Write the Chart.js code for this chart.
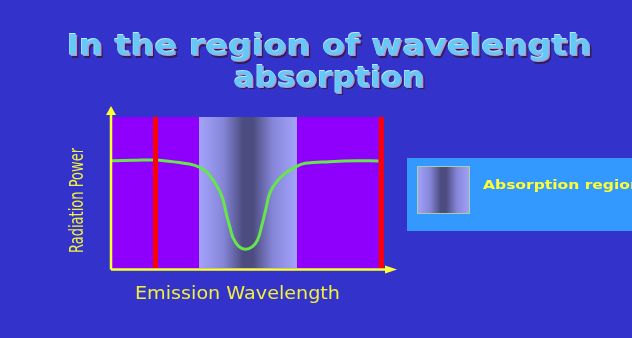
<!DOCTYPE html>
<html>
<head>
<meta charset="utf-8">
<title>In the region of wavelength absorption</title>
<script src="https://cdn.jsdelivr.net/npm/chart.js@4"></script>
<style>
  html, body { margin: 0; padding: 0; background: #3333cc; overflow: hidden; }
  canvas { display: block; }
</style>
</head>
<body>
<canvas id="chart" width="632" height="338"></canvas>
<script>
// Emission wavelength (arbitrary units) and the radiation power measured there
const wavelength = [0, 8, 16, 24, 30.5, 34.5, 38, 40.5, 42, 43.5, 44.5, 46.5, 49, 51.5, 53.5, 55, 56.5, 58, 60.5, 63.5, 67.5, 71, 80, 90, 98];
const radiationPower = [71, 71.3, 71.5, 70, 68, 64, 56, 47, 36, 26, 20, 14.5, 12.4, 14, 18.5, 27.5, 38.5, 49.5, 57, 62.5, 67, 69.3, 70.4, 71, 70.9];

// Positions of the two red emission lines
const emissionLines = [16, 99];

// Wavelength span of the absorption region
const absorptionBand = [32, 68];

// Axis ranges
const wavelengthRange = [0, 100];
const powerRange = [0, 100];

// Texts
const titleLines = ['In the region of wavelength', 'absorption'];
const xAxisTitle = 'Emission Wavelength';
const yAxisTitle = 'Radiation Power';
const legendLabel = 'Absorption region';

const BG = '#3333cc';
const PLOT_BG = '#8e00fc';
const YELLOW = '#ffff33';

function bandGradient(ctx, x0, x1) {
  const g = ctx.createLinearGradient(x0, 0, x1, 0);
  g.addColorStop(0, '#a3a3fb');
  g.addColorStop(0.25, '#8585d8');
  g.addColorStop(0.45, '#4c4c80');
  g.addColorStop(0.55, '#4c4c80');
  g.addColorStop(0.75, '#8585d8');
  g.addColorStop(1, '#a3a3fb');
  return g;
}

// Draws text on a baseline, squeezed/stretched to a given width
function fitText(ctx, text, x, baseline, width, align) {
  ctx.save();
  ctx.translate(x, baseline);
  const w = ctx.measureText(text).width;
  ctx.scale(width / w, 1);
  ctx.textAlign = align || 'center';
  ctx.textBaseline = 'alphabetic';
  ctx.fillText(text, 0, 0);
  ctx.restore();
}

const backdrop = {
  id: 'backdrop',
  beforeDraw(chart) {
    const { ctx, chartArea: a, scales } = chart;
    ctx.save();
    ctx.fillStyle = BG;
    ctx.fillRect(0, 0, chart.width, chart.height);
    ctx.fillStyle = PLOT_BG;
    ctx.fillRect(a.left, a.top, a.right - a.left, a.bottom - a.top);
    const x0 = scales.x.getPixelForValue(absorptionBand[0]);
    const x1 = scales.x.getPixelForValue(absorptionBand[1]);
    ctx.fillStyle = bandGradient(ctx, x0, x1);
    ctx.fillRect(x0, a.top, x1 - x0, a.bottom - a.top);
    ctx.restore();
  }
};

const decorations = {
  id: 'decorations',
  afterDraw(chart) {
    const { ctx, chartArea: a } = chart;
    ctx.save();

    // Title with drop shadow
    ctx.font = 'bold 29px "DejaVu Sans"';
    const titleRows = [[titleLines[0], 329, 55, 525], [titleLines[1], 329, 86.5, 191]];
    for (const [t, cx, by, w] of titleRows) {
      ctx.fillStyle = '#2c2058';
      fitText(ctx, t, cx + 2.5, by + 2.5, w);
      ctx.fillStyle = '#c58ad0';
      fitText(ctx, t, cx + 1.2, by + 1.2, w);
      ctx.fillStyle = '#bfe8ff';
      fitText(ctx, t, cx - 0.6, by - 0.6, w);
      ctx.fillStyle = '#66c8f6';
      fitText(ctx, t, cx, by, w);
    }

    // Axes with arrowheads
    ctx.strokeStyle = YELLOW;
    ctx.fillStyle = YELLOW;
    ctx.lineWidth = 2.5;
    const ax = a.left - 1;
    const ay = a.bottom + 1.5;
    ctx.beginPath();
    ctx.moveTo(ax, ay);
    ctx.lineTo(ax, a.top - 2);
    ctx.moveTo(ax, ay);
    ctx.lineTo(a.right + 2, ay);
    ctx.stroke();
    ctx.beginPath();
    ctx.moveTo(ax - 5, a.top - 2);
    ctx.lineTo(ax + 5, a.top - 2);
    ctx.lineTo(ax, a.top - 11);
    ctx.closePath();
    ctx.fill();
    ctx.beginPath();
    ctx.moveTo(a.right + 1, ay - 4);
    ctx.lineTo(a.right + 1, ay + 4);
    ctx.lineTo(a.right + 13, ay);
    ctx.closePath();
    ctx.fill();

    // Axis titles
    ctx.fillStyle = '#f0f040';
    ctx.font = '17px "DejaVu Sans"';
    fitText(ctx, xAxisTitle, 237.5, 299, 205);
    ctx.save();
    ctx.translate(83, 200.5);
    ctx.rotate(-Math.PI / 2);
    ctx.font = '20px "DejaVu Sans"';
    fitText(ctx, yAxisTitle, 0, 0, 105);
    ctx.restore();

    // Legend box
    ctx.fillStyle = '#3399ff';
    ctx.fillRect(407, 158, 240, 73);
    ctx.fillStyle = bandGradient(ctx, 417, 470);
    ctx.fillRect(417, 166, 53, 48);
    ctx.strokeStyle = '#a8d0a0';
    ctx.lineWidth = 1;
    ctx.strokeRect(417.5, 166.5, 52, 47);
    ctx.fillStyle = YELLOW;
    ctx.font = 'bold 13px "DejaVu Sans"';
    fitText(ctx, legendLabel, 483, 188.5, 158, 'left');

    ctx.restore();
  }
};

const lineData = (x) => [{ x, y: powerRange[0] }, { x, y: powerRange[1] }];

new Chart(document.getElementById('chart'), {
  type: 'line',
  data: {
    datasets: [
      ...emissionLines.map((x) => ({
        data: lineData(x),
        borderColor: '#ff0000',
        borderWidth: 5,
        pointRadius: 0,
        order: 0
      })),
      {
        data: wavelength.map((x, i) => ({ x, y: radiationPower[i] })),
        borderColor: '#66e64a',
        borderWidth: 3,
        pointRadius: 0,
        tension: 0.4,
        order: 1
      }
    ]
  },
  options: {
    responsive: false,
    animation: false,
    devicePixelRatio: 1,
    layout: { padding: { left: 112, right: 248, top: 117, bottom: 70 } },
    plugins: { legend: { display: false }, title: { display: false }, tooltip: { enabled: false } },
    scales: {
      x: { type: 'linear', min: wavelengthRange[0], max: wavelengthRange[1], display: false },
      y: { type: 'linear', min: powerRange[0], max: powerRange[1], display: false }
    }
  },
  plugins: [backdrop, decorations]
});
</script>
</body>
</html>
